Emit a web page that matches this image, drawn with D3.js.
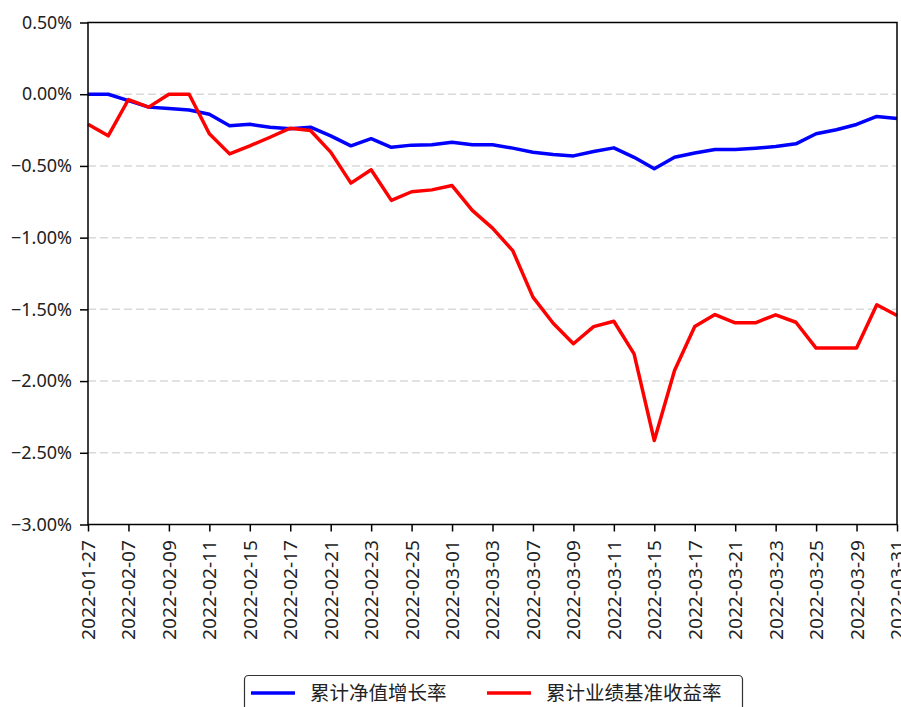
<!DOCTYPE html>
<html>
<head>
<meta charset="utf-8">
<script src="https://cdn.jsdelivr.net/npm/d3@7"></script>
<style>
	body { margin: 0; background: #fff; }
	svg { display: block; font-family: "SimHei", "Noto Sans CJK SC", sans-serif; }
</style>
</head>
<body>
<svg id="chart" width="901" height="707"></svg>
<script>
// trading days, 2022-01-27 .. 2022-03-31
let dates = ["2022-01-27", "2022-01-28", "2022-02-07", "2022-02-08", "2022-02-09", "2022-02-10", "2022-02-11",
	"2022-02-14", "2022-02-15", "2022-02-16", "2022-02-17", "2022-02-18", "2022-02-21", "2022-02-22",
	"2022-02-23", "2022-02-24", "2022-02-25", "2022-02-28", "2022-03-01", "2022-03-02", "2022-03-03",
	"2022-03-04", "2022-03-07", "2022-03-08", "2022-03-09", "2022-03-10", "2022-03-11", "2022-03-14",
	"2022-03-15", "2022-03-16", "2022-03-17", "2022-03-18", "2022-03-21", "2022-03-22", "2022-03-23",
	"2022-03-24", "2022-03-25", "2022-03-28", "2022-03-29", "2022-03-30", "2022-03-31"];

// 累计净值增长率 (%)
let netValue = [0.00, 0.00, -0.045, -0.09, -0.10, -0.11, -0.14,
	-0.22, -0.21, -0.23, -0.24, -0.23, -0.29, -0.36,
	-0.31, -0.37, -0.355, -0.353, -0.335, -0.353, -0.353,
	-0.376, -0.404, -0.42, -0.43, -0.40, -0.374, -0.44,
	-0.52, -0.44, -0.41, -0.385, -0.385, -0.376, -0.365,
	-0.346, -0.276, -0.248, -0.211, -0.155, -0.17];

// 累计业绩基准收益率 (%)
let benchmark = [-0.21, -0.29, -0.037, -0.09, 0.00, 0.00, -0.276,
	-0.416, -0.36, -0.30, -0.237, -0.253, -0.404, -0.62,
	-0.527, -0.74, -0.68, -0.667, -0.637, -0.81, -0.934,
	-1.09, -1.415, -1.597, -1.74, -1.62, -1.583, -1.81,
	-2.415, -1.927, -1.62, -1.536, -1.594, -1.594, -1.538,
	-1.59, -1.77, -1.77, -1.77, -1.468, -1.543];

let yTicks = [0.5, 0, -0.5, -1, -1.5, -2, -2.5, -3];
let xTickDates = dates.filter(function(d, i) { return i % 2 === 0; });

let seriesNames = ["累计净值增长率", "累计业绩基准收益率"];
let colors = ["#0000ff", "#ff0000"];

/**
 * Layout
 */
let plotLeft = 88, plotRight = 897, plotTop = 22.5, plotBottom = 524.5;

let svg = d3.select("#chart");

let x = d3.scalePoint()
	.domain(dates)
	.range([plotLeft, plotRight]);

let y = d3.scaleLinear()
	.domain([-3, 0.5])
	.range([plotBottom, plotTop]);

let fmt = function(d) {
	return d3.format(".2f")(d).replace("-", "\u2212") + "%";
};

/**
 * Grid
 */
svg.append("g")
	.attr("class", "grid")
	.selectAll("line")
	.data(yTicks.filter(function(d) { return d < 0.5 && d > -3; }))
	.enter()
	.append("line")
	.attr("x1", plotLeft)
	.attr("x2", plotRight)
	.attr("y1", function(d) { return y(d); })
	.attr("y2", function(d) { return y(d); })
	.attr("stroke", "#d9d9d9")
	.attr("stroke-width", 1.5)
	.attr("stroke-dasharray", "8,4");

/**
 * Lines
 */
let line = d3.line()
	.x(function(d, i) { return x(dates[i]); })
	.y(function(d) { return y(d); });

[netValue, benchmark].forEach(function(series, k) {
	svg.append("path")
		.datum(series)
		.attr("fill", "none")
		.attr("stroke", colors[k])
		.attr("stroke-width", 3.5)
		.attr("stroke-linejoin", "round")
		.attr("d", line);
});

/**
 * Frame
 */
svg.append("rect")
	.attr("x", plotLeft)
	.attr("y", plotTop)
	.attr("width", plotRight - plotLeft)
	.attr("height", plotBottom - plotTop)
	.attr("fill", "none")
	.attr("stroke", "#000")
	.attr("stroke-width", 1.5);

/**
 * Axes
 */
let yAxis = svg.append("g")
	.attr("transform", "translate(" + plotLeft + ",0)")
	.call(d3.axisLeft(y).tickValues(yTicks).tickFormat(fmt).tickSize(8).tickPadding(8));

yAxis.select(".domain").remove();
yAxis.selectAll("line").attr("stroke-width", 1.5);
yAxis.selectAll("text")
	.attr("font-size", 18)
	.attr("font-family", "SimHei, 'Noto Sans', sans-serif")
	.attr("fill", "#222")
	.attr("textLength", function(d) { return d < 0 ? 61 : 50; })
	.attr("lengthAdjust", "spacingAndGlyphs");

let xAxis = svg.append("g")
	.attr("transform", "translate(0," + plotBottom + ")")
	.call(d3.axisBottom(x).tickValues(xTickDates).tickSize(7));

xAxis.select(".domain").remove();
xAxis.selectAll("line").attr("stroke-width", 1.5);
xAxis.selectAll("text")
	.attr("transform", "rotate(-90)")
	.attr("text-anchor", "end")
	.attr("x", -15.5)
	.attr("y", 0)
	.attr("dy", "0.36em")
	.attr("font-size", 18)
	.attr("font-family", "SimHei, 'Noto Sans', sans-serif")
	.attr("fill", "#222")
	.attr("textLength", 100)
	.attr("lengthAdjust", "spacingAndGlyphs");

/**
 * Legend
 */
let legend = svg.append("g").attr("class", "legend");

legend.append("rect")
	.attr("x", 244.5)
	.attr("y", 675.5)
	.attr("width", 498)
	.attr("height", 50)
	.attr("rx", 4)
	.attr("fill", "#fff")
	.attr("stroke", "#333")
	.attr("stroke-width", 1.2);

let items = legend.selectAll("g.item")
	.data(seriesNames)
	.enter()
	.append("g")
	.attr("class", "item")
	.attr("transform", function(d, i) { return "translate(" + [251, 487][i] + ",693)"; });

items.append("line")
	.attr("x1", 0)
	.attr("x2", 44)
	.attr("stroke", function(d, i) { return colors[i]; })
	.attr("stroke-width", 3.5);

items.append("text")
	.attr("x", 59)
	.attr("dy", "0.36em")
	.attr("font-size", 19.5)
	.attr("fill", "#222")
	.text(function(d) { return d; });
</script>
</body>
</html>
